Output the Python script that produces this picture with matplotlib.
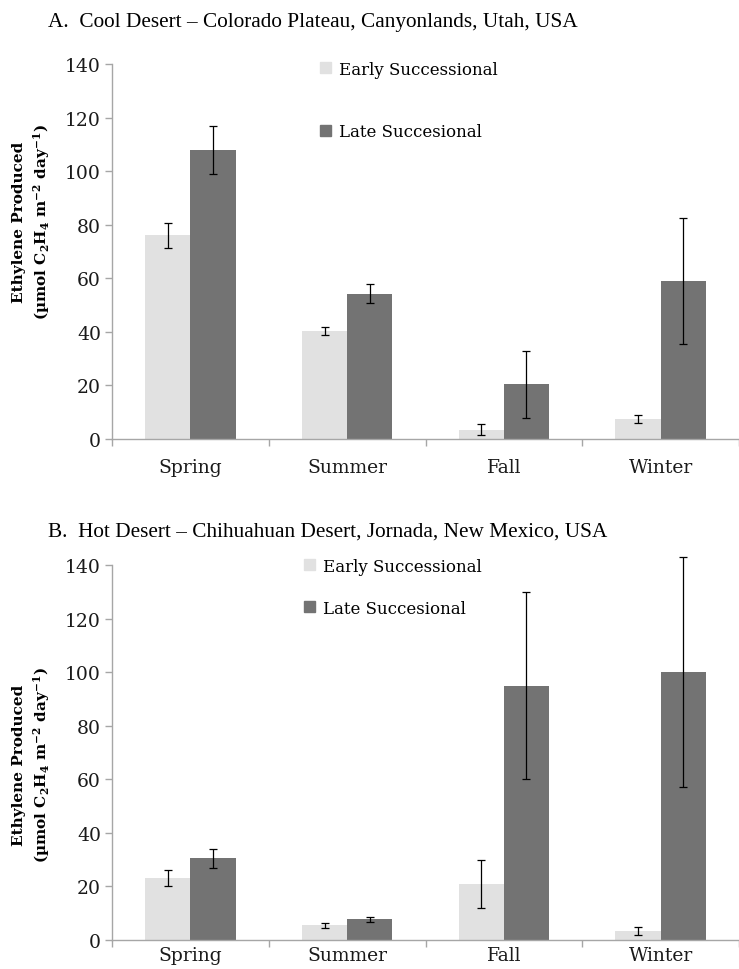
import numpy as np
import matplotlib
matplotlib.use("Agg")
import matplotlib.pyplot as plt

seasons = ["Spring", "Summer", "Fall", "Winter"]
series_names = ["Early Successional", "Late Succesional"]

# cool desert (Colorado Plateau)
cool_early = [76, 40.3, 3.5, 7.3]
cool_early_err = [4.7, 1.5, 2.0, 1.5]
cool_late = [108, 54.3, 20.5, 59]
cool_late_err = [9.0, 3.7, 12.5, 23.5]

# hot desert (Chihuahuan)
hot_early = [23, 5.5, 21, 3.5]
hot_early_err = [3.0, 1.0, 9.0, 1.5]
hot_late = [30.5, 7.8, 95, 100]
hot_late_err = [3.5, 0.9, 35, 43]

titles = ["A.  Cool Desert \u2013 Colorado Plateau, Canyonlands, Utah, USA",
          "B.  Hot Desert \u2013 Chihuahuan Desert, Jornada, New Mexico, USA"]
ylabel = "Ethylene Produced\n(\u00b5mol C$_2$H$_4$ m$^{-2}$ day$^{-1}$)"

early_color = "#e1e1e1"
late_color = "#737373"
axis_color = "#a6a6a6"

plt.rcParams["mathtext.fontset"] = "custom"
plt.rcParams["mathtext.rm"] = "DejaVu Serif:bold"
plt.rcParams["mathtext.default"] = "rm"

W, H = 739, 970
fig = plt.figure(figsize=(W / 100, H / 100), dpi=100)


def px(x0, y_top, y_bot):
    # axes rect from pixel coordinates
    return [x0 / W, 1 - y_bot / H, (W - x0) / W, (y_bot - y_top) / H]


def panel(rect, early, early_err, late, late_err, title, title_y, ylab_y,
          leg_anchor, leg_spacing, xpad):
    ax = fig.add_axes(rect)
    x = np.arange(len(seasons))
    bw = 0.288
    ax.bar(x - bw / 2, early, bw, color=early_color, zorder=2)
    ax.bar(x + bw / 2, late, bw, color=late_color, zorder=2)
    ekw = dict(fmt="none", ecolor="black", elinewidth=0.9, capsize=3.2,
               capthick=0.9, zorder=3, clip_on=False)
    ax.errorbar(x - bw / 2, early, yerr=early_err, **ekw)
    ax.errorbar(x + bw / 2, late, yerr=late_err, **ekw)

    ax.set_xlim(-0.5, -0.5 + (W - 112) / 158)
    ax.set_ylim(0, 140)
    ax.set_yticks(np.arange(0, 141, 20))
    ax.set_xticks(x)
    ax.set_xticklabels(seasons)
    ax.set_xticks(np.arange(-0.5, 4, 1), minor=True)
    ax.tick_params(axis="x", which="major", length=0, pad=xpad)
    ax.tick_params(axis="x", which="minor", length=5, color=axis_color, width=1)
    ax.tick_params(axis="y", length=5, color=axis_color, width=1, pad=3)
    for lab in ax.get_xticklabels() + ax.get_yticklabels():
        lab.set_fontfamily("DejaVu Serif")
        lab.set_fontsize(13.5)
        lab.set_color("#1a1a1a")
    for s in ["top", "right"]:
        ax.spines[s].set_visible(False)
    for s in ["left", "bottom"]:
        ax.spines[s].set_color(axis_color)
        ax.spines[s].set_linewidth(1)

    handles = [plt.Rectangle((0, 0), 1, 1, color=early_color),
               plt.Rectangle((0, 0), 1, 1, color=late_color)]
    ax.legend(handles, series_names, loc="upper left",
              bbox_to_anchor=leg_anchor, frameon=False,
              prop={"family": "DejaVu Serif", "size": 12},
              handlelength=0.65, handleheight=0.65, handletextpad=0.5,
              labelspacing=leg_spacing, borderpad=0, borderaxespad=0)

    fig.text(48 / W, 1 - title_y / H, title, family="Liberation Serif",
             fontsize=15.3, va="center", ha="left")
    fig.text(32 / W, 1 - ylab_y / H, ylabel, rotation=90, ha="center",
             va="center", family="DejaVu Serif", fontweight="bold",
             fontsize=11, linespacing=1.3, multialignment="center")
    return ax


panel(px(112, 65, 440), cool_early, cool_early_err, cool_late, cool_late_err,
      titles[0], 22, 222, ((320 - 112) / 627, 1.009), 2.72, 14)
panel(px(112, 566, 941), hot_early, hot_early_err, hot_late, hot_late_err,
      titles[1], 532, 765, ((304 - 112) / 627, 1.02), 1.5, 4)

fig.savefig("out.png", dpi=100)
